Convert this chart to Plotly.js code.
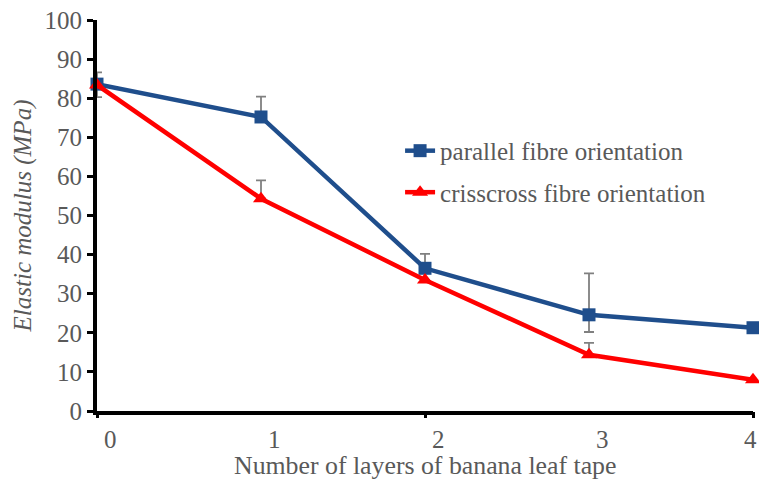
<!DOCTYPE html>
<html><head><meta charset="utf-8">
<script src="https://cdn.plot.ly/plotly-3.0.1.min.js"></script>
<style>html,body{margin:0;padding:0;background:#fff;}#chart{width:759px;height:479px;}</style>
</head><body><div id="chart"></div>
<script>
const layers = [0, 1, 2, 3, 4];
const parallel = [83.6, 75.2, 36.5, 24.6, 21.3];
const parallelErrPlus = [3.0, 5.2, 3.7, 10.6, 0];
const parallelErrMinus = [3.3, 0, 0, 4.4, 0];
const crisscross = [83.4, 54.3, 33.5, 14.4, 8.0];
const crissErrPlus = [0, 4.7, 0, 3.0, 0];
const crissErrMinus = [0, 0, 0, 0, 0];
const tickLabels = ['0', '1', '2', '3', '4'];
const majorTicks = [0, 2, 4];

const FONT = 'Liberation Serif';
const GREY = '#595959';
const FS = 25;

const traces = [
  {
    x: layers, y: parallel, name: 'parallel fibre orientation', type: 'scatter', mode: 'lines+markers',
    line: {color: '#1F4E8C', width: 4.5},
    marker: {symbol: 'square', size: 13, color: '#1F4E8C'},
    error_y: {type: 'data', symmetric: false, array: parallelErrPlus, arrayminus: parallelErrMinus,
              color: '#808080', thickness: 1.8, width: 5},
    cliponaxis: false, legendgroup: 'a'
  },
  {
    x: layers, y: crisscross, name: 'crisscross fibre orientation', type: 'scatter', mode: 'lines+markers',
    line: {color: '#FF0000', width: 4.5},
    marker: {symbol: 'triangle-up', size: 14, color: '#FF0000'},
    error_y: {type: 'data', symmetric: false, array: crissErrPlus, arrayminus: crissErrMinus,
              color: '#808080', thickness: 1.8, width: 5},
    cliponaxis: false, legendgroup: 'b'
  },
  {
    x: majorTicks, y: majorTicks.map(() => null), xaxis: 'x2', type: 'scatter', mode: 'markers',
    showlegend: false, hoverinfo: 'skip'
  }
];

const annotations = tickLabels.map((t, i) => ({
  text: t, xref: 'x', yref: 'paper', x: layers[i], y: -0.074,
  xanchor: i === tickLabels.length - 1 ? 'right' : 'center', yanchor: 'middle',
  xshift: i === tickLabels.length - 1 ? 6 : 13,
  showarrow: false, font: {family: FONT, size: FS, color: GREY}
}));
annotations.push({
  text: 'Number of layers of banana leaf tape', xref: 'paper', yref: 'paper', x: 0.5, y: -0.14,
  xanchor: 'center', yanchor: 'middle', showarrow: false, font: {family: FONT, size: 25.8, color: GREY}
});

const layout = {
  width: 759, height: 479,
  margin: {l: 97, r: 6, t: 20, b: 68},
  paper_bgcolor: '#fff', plot_bgcolor: '#fff',
  font: {family: FONT, color: GREY, size: FS},
  showlegend: true,
  legend: {x: 0.462, y: 0.724, xanchor: 'left', yanchor: 'top', bgcolor: 'rgba(0,0,0,0)',
           font: {family: FONT, size: FS, color: GREY}, tracegroupgap: 6, traceorder: 'grouped'},
  xaxis: {
    range: [0, 4], tickvals: layers, showticklabels: false, ticks: '', showgrid: false, zeroline: false,
    showline: true, linecolor: '#000', linewidth: 4, fixedrange: true
  },
  xaxis2: {
    overlaying: 'x', range: [0, 4], tickvals: majorTicks, ticks: 'outside', ticklen: 6, tickwidth: 3,
    tickcolor: '#000', showticklabels: false, showgrid: false, zeroline: false, showline: false,
    anchor: 'y', side: 'bottom'
  },
  yaxis: {
    range: [0, 100], dtick: 10, ticks: 'outside', ticklen: 6, tickwidth: 3, tickcolor: '#000',
    showgrid: false, zeroline: false, showline: true, linecolor: '#000', linewidth: 4,
    tickfont: {family: FONT, size: FS, color: GREY},
    title: {text: '<i>Elastic modulus (MPa)</i>', font: {family: FONT, size: FS, color: GREY}, standoff: 7}
  },
  annotations: annotations
};

Plotly.newPlot('chart', traces, layout, {displayModeBar: false, staticPlot: true});
</script>
</body></html>
